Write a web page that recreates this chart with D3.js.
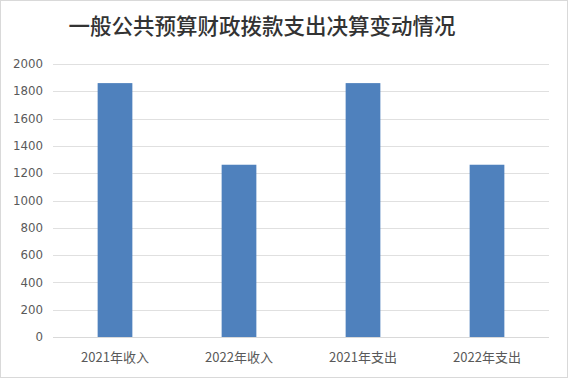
<!DOCTYPE html>
<html>
<head>
<meta charset="utf-8">
<script src="https://cdn.jsdelivr.net/npm/d3@7"></script>
<style>
  body { margin: 0; background: #fff; }
  svg { display: block; }
</style>
</head>
<body>
<div id="chart"></div>
<script>
var categories = ['2021年收入', '2022年收入', '2021年支出', '2022年支出']
var values = [1860, 1262, 1860, 1262]
var y_ticks = [0, 200, 400, 600, 800, 1000, 1200, 1400, 1600, 1800, 2000]
var title = '一般公共预算财政拨款支出决算变动情况'

var W = 568, H = 378
var m = { top: 64, right: 19, bottom: 41, left: 53 }

var svg = d3.select('#chart').append('svg')
  .attr('width', W)
  .attr('height', H)

// outer border
svg.append('rect')
  .attr('x', 0.5).attr('y', 0.5)
  .attr('width', W - 1).attr('height', H - 1)
  .attr('fill', '#fff')
  .attr('stroke', '#d9d9d9')

svg.append('text')
  .attr('x', 262)
  .attr('y', 34)
  .attr('text-anchor', 'middle')
  .attr('font-family', '"Noto Sans CJK SC", sans-serif')
  .attr('font-size', 21.5)
  .attr('font-weight', 500)
  .attr('fill', '#333')
  .text(title)

var x = d3.scaleBand()
  .domain(categories)
  .range([m.left, W - m.right])
  .paddingInner(0.72)
  .paddingOuter(0.36)

var y = d3.scaleLinear()
  .domain([0, 2000])
  .range([H - m.bottom, m.top])

// gridlines
svg.append('g')
  .selectAll('line')
  .data(y_ticks)
  .join('line')
  .attr('x1', m.left)
  .attr('x2', W - m.right)
  .attr('y1', function(d){ return Math.round(y(d)) + 0.5 })
  .attr('y2', function(d){ return Math.round(y(d)) + 0.5 })
  .attr('stroke', '#e0e0e0')
  .attr('stroke-width', 1)

// y labels
svg.append('g')
  .selectAll('text')
  .data(y_ticks)
  .join('text')
  .attr('x', 43)
  .attr('y', function(d){ return y(d) })
  .attr('dy', '0.35em')
  .attr('text-anchor', 'end')
  .attr('font-family', '"DejaVu Sans", sans-serif')
  .attr('font-size', 11.8)
  .attr('fill', '#595959')
  .text(function(d){ return d })

// bars
svg.append('g')
  .selectAll('rect')
  .data(values)
  .join('rect')
  .attr('x', function(d, i){ return x(categories[i]) })
  .attr('y', function(d){ return y(d) })
  .attr('width', x.bandwidth())
  .attr('height', function(d){ return y(0) - y(d) })
  .attr('fill', '#4f81bd')

// baseline
svg.append('line')
  .attr('x1', m.left).attr('x2', W - m.right)
  .attr('y1', Math.round(y(0)) + 0.5).attr('y2', Math.round(y(0)) + 0.5)
  .attr('stroke', '#d9d9d9')

// x labels
svg.append('g')
  .selectAll('text')
  .data(categories)
  .join('text')
  .attr('x', function(d){ return x(d) + x.bandwidth() / 2 })
  .attr('y', 357)
  .attr('dy', '0.35em')
  .attr('text-anchor', 'middle')
  .attr('font-family', '"Noto Sans CJK SC", sans-serif')
  .attr('font-size', 13)
  .attr('fill', '#595959')
  .text(function(d){ return d })
</script>
</body>
</html>
